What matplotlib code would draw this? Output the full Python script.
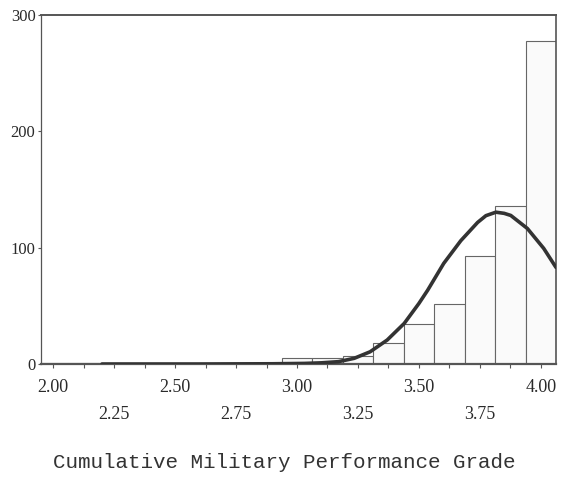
import matplotlib
matplotlib.use("Agg")
import matplotlib.pyplot as plt

# histogram bins (centre of each 0.125 wide bin) and counts
bin_centers = [2.0, 2.125, 2.25, 2.375, 2.5, 2.625, 2.75, 2.875, 3.0,
               3.125, 3.25, 3.375, 3.5, 3.625, 3.75, 3.875, 4.0]
counts = [1, 1, 0, 0, 0, 0, 1, 1, 5, 5, 7, 18, 34, 52, 93, 136, 278]
bin_width = 0.125

# fitted curve
curve_x = [2.20, 2.60, 2.90, 3.03, 3.10, 3.17, 3.235, 3.30, 3.37, 3.44, 3.50,
           3.536, 3.602, 3.672, 3.741, 3.775, 3.816, 3.85, 3.877, 3.945, 4.012, 4.0625]
curve_y = [0, 0, 0.2, 0.5, 1.0, 2.0, 4.9, 10.5, 20.6, 34.9, 52,
           63.4, 86.5, 106, 121.7, 127.5, 130.5, 129.5, 127.7, 116.5, 99.4, 83]

row1_ticks = [2.0, 2.5, 3.0, 3.5, 4.0]
row1_labels = ["2.00", "2.50", "3.00", "3.50", "4.00"]
row2_ticks = [2.25, 2.75, 3.25, 3.75]
row2_labels = ["2.25", "2.75", "3.25", "3.75"]
y_ticks = [0, 100, 200, 300]

fig = plt.figure(figsize=(5.68, 4.8), dpi=100)
ax = fig.add_axes([41 / 568, (480 - 364) / 480, (556 - 41) / 568, (364 - 15) / 480])

ax.bar(bin_centers, counts, width=bin_width, color="#fafafa",
       edgecolor="#666666", linewidth=0.8, zorder=2)
ax.plot(curve_x, curve_y, color="#333333", linewidth=2.6,
        solid_capstyle="round", solid_joinstyle="round", zorder=3)

ax.set_xlim(1.95, 4.0625)
ax.set_ylim(0, 300)

for side in ["top", "bottom", "left", "right"]:
    ax.spines[side].set_color("#555555")
ax.spines["top"].set_linewidth(1.4)
ax.spines["bottom"].set_linewidth(1.6)
ax.spines["left"].set_linewidth(0.9)
ax.spines["right"].set_linewidth(1.2)

serif = "Liberation Serif"
lab = dict(zip(row1_ticks, row1_labels))
ax.set_xticks(bin_centers, labels=[lab.get(c, "") for c in bin_centers])
ax.tick_params(axis="x", length=3, width=0.8, color="#555555", pad=8,
               labelsize=13, labelcolor="#2a2a2a")
for t in ax.get_xticklabels():
    t.set_fontfamily(serif)

sec = ax.secondary_xaxis("bottom")
sec.set_xticks(row2_ticks, labels=row2_labels)
sec.tick_params(length=0, pad=30, labelsize=13, labelcolor="#2a2a2a")
sec.spines["bottom"].set_visible(False)
for t in sec.get_xticklabels():
    t.set_fontfamily(serif)

ax.set_yticks(y_ticks)
ax.tick_params(axis="y", length=2, width=0.8, color="#555555", pad=2,
               labelsize=12, labelcolor="#2a2a2a")
for t in ax.get_yticklabels():
    t.set_fontfamily(serif)

fig.text(0.5, (480 - 463) / 480, "Cumulative Military Performance Grade",
         ha="center", va="center", fontsize=15, family="Liberation Mono",
         color="#333333")

fig.savefig("out.png", dpi=100)
